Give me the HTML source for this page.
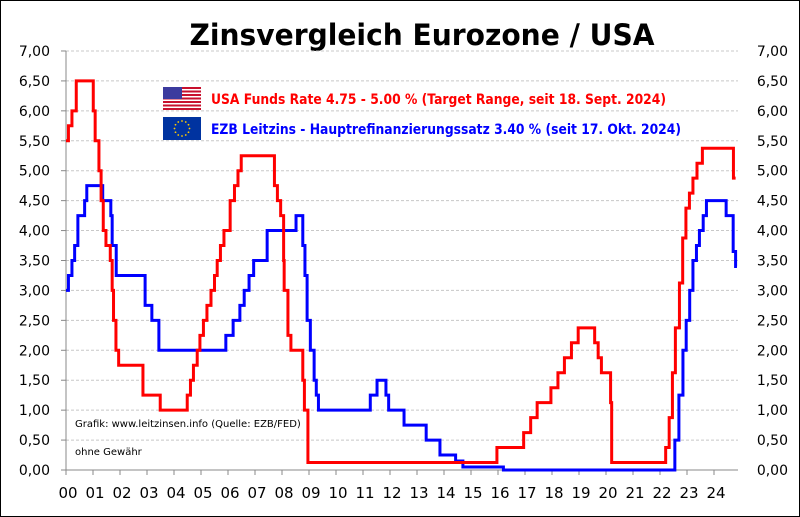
<!DOCTYPE html>
<html><head><meta charset="utf-8"><style>
html,body{margin:0;padding:0;background:#fff}
svg{display:block}
text{font-family:"DejaVu Sans","Liberation Sans",sans-serif}
</style></head><body>
<svg id="s" width="800" height="517" viewBox="0 0 800 517" xmlns="http://www.w3.org/2000/svg">
<rect x="0.5" y="0.5" width="799" height="516" fill="#fff" stroke="#000" stroke-width="1"/>
<text x="422" y="45" text-anchor="middle" font-size="29" font-weight="bold" fill="#000" textLength="465" lengthAdjust="spacingAndGlyphs">Zinsvergleich Eurozone / USA</text>
<g id="grid"></g>
<line x1="66" y1="51" x2="66" y2="470" stroke="#888" stroke-width="1"/>
<line x1="66" y1="470" x2="738" y2="470" stroke="#888" stroke-width="1"/>
<g id="labels" font-size="14" fill="#000"></g>
<polyline id="blue" fill="none" stroke="#0000ff" stroke-width="3" stroke-linejoin="miter"/>
<polyline id="red" fill="none" stroke="#ff0000" stroke-width="3" stroke-linejoin="miter"/>
<g transform="translate(163,87)">
<rect width="38" height="23" fill="#fff"/>
<g fill="#c8102e"><rect y="0" width="38" height="2"/><rect y="3.5" width="38" height="2"/><rect y="7" width="38" height="2"/><rect y="10.5" width="38" height="2"/><rect y="14" width="38" height="2"/><rect y="17.5" width="38" height="2"/><rect y="21" width="38" height="2"/></g>
<rect width="19" height="12" fill="#3c3b9e"/>
</g>
<g transform="translate(163,117)">
<rect width="38" height="23" fill="#0033a0"/>
<g id="stars" fill="#ffcc00"></g>
</g>
<text x="211" y="104" font-size="14.5" font-weight="bold" fill="#ff0000" textLength="455" lengthAdjust="spacingAndGlyphs">USA Funds Rate 4.75 - 5.00 % (Target Range, seit 18. Sept. 2024)</text>
<text x="211" y="134" font-size="14.5" font-weight="bold" fill="#0000ff" textLength="470" lengthAdjust="spacingAndGlyphs">EZB Leitzins  - Hauptrefinanzierungssatz  3.40 % (seit 17. Okt. 2024)</text>
<text x="75" y="427" font-size="10" fill="#000">Grafik: www.leitzinsen.info (Quelle: EZB/FED)</text>
<text x="75" y="455" font-size="10" fill="#000">ohne Gewähr</text>
</svg>
<script>
var NS="http://www.w3.org/2000/svg";
function X(t){return 66+27*t;}
function Y(v){return 470-v*59.86;}
var g=document.getElementById('grid'),L=document.getElementById('labels');
function el(n,a,p,txt){var e=document.createElementNS(NS,n);for(var k in a)e.setAttribute(k,a[k]);if(txt!==undefined)e.textContent=txt;p.appendChild(e);return e;}
for(var i=0;i<=14;i++){var v=i*0.5,y=Y(v);
 if(i>0)el('line',{x1:66,x2:738,y1:y,y2:y,stroke:'#c8c8c8','stroke-dasharray':'3,2','stroke-width':1},g);
 el('line',{x1:61,x2:66,y1:y,y2:y,stroke:'#888'},g);
 var s=v.toFixed(2).replace('.',',');
 el('text',{x:50,y:y+5,'text-anchor':'end'},L,s);
 el('text',{x:788,y:y+5,'text-anchor':'end'},L,s);}
for(var k=0;k<=24;k++){var x=X(k);el('line',{x1:x,x2:x,y1:470,y2:475,stroke:'#888'},g);
 el('text',{x:x+2,y:498,'text-anchor':'middle','font-size':15},L,(k<10?'0':'')+k);}
var st=document.getElementById('stars');
for(var i=0;i<12;i++){var a=i*Math.PI/6;el('circle',{cx:19+7.5*Math.cos(a),cy:11.5+7.5*Math.sin(a),r:0.9},st);}
function pts(d,end){var p=[],pv=d[0][1];p.push(X(d[0][0])+','+Y(pv));
 for(var i=1;i<d.length;i++){var x=X(d[i][0]);p.push(x+','+Y(pv));p.push(x+','+Y(d[i][1]));pv=d[i][1];}
 p.push(X(end)+','+Y(pv));return p.join(' ');}
var red=[[0,5.5],[0.09,5.75],[0.22,6],[0.38,6.5],[1.01,6],[1.08,5.5],[1.22,5],[1.3,4.5],[1.38,4],[1.48,3.75],[1.64,3.5],[1.71,3],[1.76,2.5],[1.85,2],[1.95,1.75],[2.85,1.25],[3.49,1],[4.49,1.25],[4.61,1.5],[4.72,1.75],[4.86,2],[4.96,2.25],[5.09,2.5],[5.22,2.75],[5.37,3],[5.5,3.25],[5.6,3.5],[5.72,3.75],[5.85,4],[6.08,4.5],[6.24,4.75],[6.37,5],[6.49,5.25],[7.72,4.75],[7.83,4.5],[7.95,4.25],[8.06,3.5],[8.08,3],[8.22,2.25],[8.33,2],[8.77,1.5],[8.83,1],[8.96,0.125],[15.96,0.375],[16.95,0.625],[17.21,0.875],[17.45,1.125],[17.96,1.375],[18.22,1.625],[18.46,1.875],[18.72,2.125],[18.97,2.375],[19.58,2.125],[19.71,1.875],[19.83,1.625],[20.17,1.125],[20.21,0.125],[22.21,0.375],[22.34,0.875],[22.46,1.625],[22.57,2.375],[22.72,3.125],[22.84,3.875],[22.96,4.375],[23.09,4.625],[23.22,4.875],[23.37,5.125],[23.57,5.375],[24.72,4.875]];
var blue=[[0,3],[0.09,3.25],[0.22,3.5],[0.32,3.75],[0.44,4.25],[0.69,4.5],[0.77,4.75],[1.36,4.5],[1.66,4.25],[1.71,3.75],[1.86,3.25],[2.93,2.75],[3.18,2.5],[3.44,2],[5.92,2.25],[6.19,2.5],[6.44,2.75],[6.6,3],[6.78,3.25],[6.95,3.5],[7.45,4],[8.52,4.25],[8.77,3.75],[8.85,3.25],[8.93,2.5],[9.05,2],[9.19,1.5],[9.27,1.25],[9.35,1],[11.27,1.25],[11.52,1.5],[11.85,1.25],[11.95,1],[12.52,0.75],[13.34,0.5],[13.85,0.25],[14.43,0.15],[14.7,0.05],[16.2,0],[22.55,0.5],[22.7,1.25],[22.85,2],[22.97,2.5],[23.1,3],[23.22,3.5],[23.35,3.75],[23.46,4],[23.6,4.25],[23.72,4.5],[24.45,4.25],[24.71,3.65],[24.8,3.4]];
document.getElementById('red').setAttribute('points',pts(red,24.8));
document.getElementById('blue').setAttribute('points',pts(blue,24.85));
</script>
</body></html>
